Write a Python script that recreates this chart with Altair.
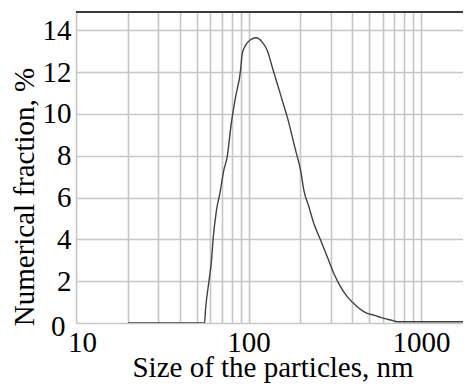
import altair as alt
import pandas as pd

# Particle size distribution
sizes_nm = [20, 55.6, 56.3, 58.9, 60.8, 62.4, 65.2, 68.2, 71.9, 75.2, 79.4, 84.1,
            89.9, 91.9, 96.1, 102.7, 110.8, 120.1, 128.4, 137.2, 146.7, 156.8,
            167.6, 187.3, 200.2, 209.3, 223.7, 239.1, 261.5, 285.9, 312.3, 341.6,
            373.4, 426.7, 487.6, 532.7, 582.5, 636.8, 695.6, 740, 1750]
fraction_pct = [0, 0, 0.62, 1.97, 2.85, 4.05, 5.40, 6.20, 7.31, 7.95, 9.54, 10.81,
                12.09, 12.89, 13.28, 13.55, 13.65, 13.44, 13.04, 12.25, 11.45, 10.65,
                9.86, 8.27, 7.31, 6.35, 5.56, 4.76, 3.97, 3.17, 2.37, 1.73,
                1.26, 0.78, 0.46, 0.38, 0.27, 0.18, 0.10, 0.06, 0.06]

x_grid_values = [10, 20, 30, 40, 50, 60, 70, 80, 90,
                 100, 200, 300, 400, 500, 600, 700, 800, 900, 1000]
x_label_values = [10, 100, 1000]
y_tick_values = [0, 2, 4, 6, 8, 10, 12, 14]

x_title = "Size of the particles, nm"
y_title = "Numerical fraction, %"

df = pd.DataFrame({"size": sizes_nm, "fraction": fraction_pct})

W, H = 387, 311
FONT = "Liberation Serif"
GRID = "#c6c6c6"

label_test = " || ".join(f"datum.value == {v}" for v in x_label_values)

x_axis = alt.Axis(
    values=x_grid_values,
    format="d",
    labelExpr=f"({label_test}) ? datum.label : ''",
    title=x_title,
    titleFont=FONT, titleFontSize=29, titleFontWeight="normal", titleColor="#000",
    titleX=196.5, titleY=53.5, titleAlign="center", titleBaseline="alphabetic",
    labelFont=FONT, labelFontSize=29, labelColor="#000",
    labelPadding=5.5,
    labelOffset={"condition": {"test": "datum.value == 10", "value": 6}, "value": 0},
    labelOverlap=False, labelFlush=False, labelBound=False,
    ticks=False, domain=False,
    grid=True, gridColor=GRID, gridWidth=1.6,
)

y_axis = alt.Axis(
    values=y_tick_values,
    title=y_title,
    titleFont=FONT, titleFontSize=29, titleFontWeight="normal", titleColor="#000",
    titleX=-43, titleY=184.5, titleAlign="center", titleBaseline="alphabetic",
    labelFont=FONT, labelFontSize=29, labelColor="#000",
    labelPadding={"condition": {"test": "datum.value == 0", "value": 11}, "value": 5},
    labelOffset={"condition": {"test": "datum.value == 0", "value": 3}, "value": 0},
    labelOverlap=False, labelBound=False, labelFlush=False,
    ticks=False, domain=False,
    grid=True, gridColor=GRID, gridWidth=1.6,
)

x_scale = alt.Scale(type="log", domain=[10, 1750], nice=False)
y_scale = alt.Scale(domain=[0, 14.88], nice=False, zero=True)

line = alt.Chart(df).mark_line(
    color="#424242", strokeWidth=1.4, interpolate="monotone", clip=True
).encode(
    x=alt.X("size:Q", scale=x_scale, axis=x_axis),
    y=alt.Y("fraction:Q", scale=y_scale, axis=y_axis),
)

top_rule = alt.Chart(pd.DataFrame({"k": [0]})).mark_rule(
    color="#3a3a3a", strokeWidth=2
).encode(
    x=alt.value(0), x2=alt.value(W), y=alt.value(0)
)

chart = alt.layer(line, top_rule).properties(
    width=W, height=H,
    autosize=alt.AutoSizeParams(type="none"),
    padding={"left": 68, "top": 4, "right": 0, "bottom": 60},
).configure_view(strokeWidth=0)

chart.save("out.html", embed_options={"renderer": "svg", "actions": False})
